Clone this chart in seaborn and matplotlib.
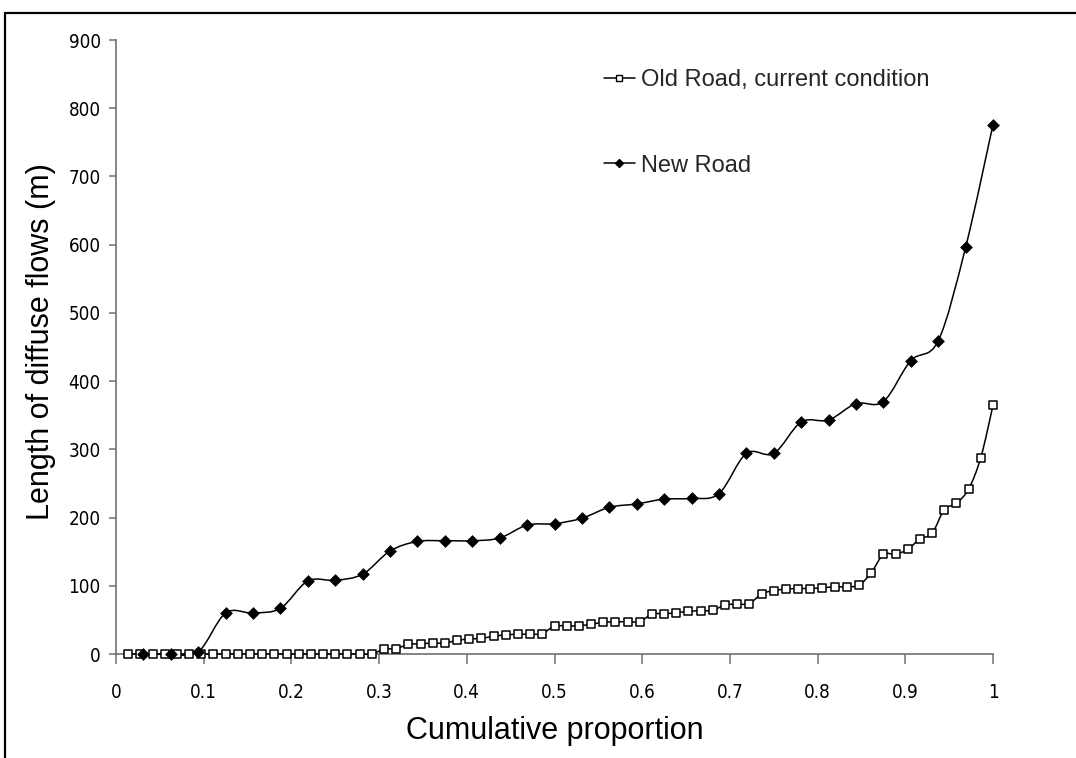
import numpy as np
import pandas as pd
import matplotlib
matplotlib.use("Agg")
import matplotlib.pyplot as plt
from matplotlib.path import Path
from matplotlib.patches import PathPatch, Rectangle
from matplotlib.lines import Line2D
from matplotlib import font_manager
import seaborn as sns

# Length of diffuse flows (m), sorted, for each road survey
old_road = [0, 0, 0, 0, 0, 0, 0, 0, 0, 0, 0, 0, 0, 0, 0, 0, 0, 0, 0, 0, 0,
            7, 8, 14, 15, 16, 16, 20, 22, 23, 26, 28, 29, 29, 30, 41,
            41, 41.5, 43.5, 46.5, 47, 47.5, 47.5, 58.5, 59, 60.5, 62.5, 63.5, 64,
            72, 73, 74, 88, 93, 95, 96, 96, 97, 98.5, 98.5, 101, 119, 146, 146,
            153.5, 168.5, 177, 211.5, 221, 242, 288, 364.5]
new_road = [0, 0, 3, 60, 60, 67, 107, 108, 117, 151, 165, 166, 166, 170,
            189, 191, 199, 215, 220, 227, 228, 235, 294, 294, 340, 343, 367,
            370, 430, 459, 596, 776]

old_label = "Old Road, current condition"
new_label = "New Road"

x_ticks = [0, 0.1, 0.2, 0.3, 0.4, 0.5, 0.6, 0.7, 0.8, 0.9, 1]
x_tick_labels = ["0", "0.1", "0.2", "0.3", "0.4", "0.5", "0.6", "0.7", "0.8", "0.9", "1"]
y_ticks = [0, 100, 200, 300, 400, 500, 600, 700, 800, 900]


def cumulative(values):
    n = len(values)
    return np.arange(1, n + 1) / n


df = pd.concat([
    pd.DataFrame({"prop": cumulative(old_road), "length": old_road, "road": old_label}),
    pd.DataFrame({"prop": cumulative(new_road), "length": new_road, "road": new_label}),
], ignore_index=True)

sns.set_theme(style="white")
plt.rcParams["font.family"] = ["Liberation Sans", "DejaVu Sans"]

# Narrow face for the tick numbers when one is available
has_condensed = any(f.name == "DejaVu Sans" and f.stretch == "condensed"
                    for f in font_manager.fontManager.ttflist)
if has_condensed:
    tick_font = dict(family="DejaVu Sans", stretch="condensed", size=13.5)
else:
    tick_font = dict(family="Liberation Sans", size=13)

fig = plt.figure(figsize=(10.76, 7.58), dpi=100)
ax = fig.add_axes([116 / 1076, 104 / 758, 877 / 1076, 614 / 758])

axis_grey = "#707070"


def smooth_path(xs, ys):
    """Cardinal-spline curve through the points, as cubic Bezier segments."""
    pts = np.column_stack([xs, ys]).astype(float)
    verts = [pts[0]]
    codes = [Path.MOVETO]
    n = len(pts)
    for i in range(n - 1):
        p0 = pts[i - 1] if i > 0 else pts[i]
        p1 = pts[i]
        p2 = pts[i + 1]
        p3 = pts[i + 2] if i + 2 < n else pts[i + 1]
        c1 = p1 + (p2 - p0) / 6.0
        c2 = p2 - (p3 - p1) / 6.0
        verts += [c1, c2, p2]
        codes += [Path.CURVE4] * 3
    return Path(verts, codes)


for label in [old_label, new_label]:
    sub = df[df["road"] == label]
    patch = PathPatch(smooth_path(sub["prop"], sub["length"]), facecolor="none",
                      edgecolor="black", lw=1.1, transform=ax.transData, zorder=2,
                      clip_on=False)
    ax.add_patch(patch)

sns.scatterplot(data=df[df["road"] == old_label], x="prop", y="length", marker="s",
                s=40, facecolor="white", edgecolor="black", linewidth=1.1,
                ax=ax, zorder=3, legend=False, clip_on=False)
sns.scatterplot(data=df[df["road"] == new_label], x="prop", y="length", marker="D",
                s=36, color="black", edgecolor="black", linewidth=0.5,
                ax=ax, zorder=4, legend=False, clip_on=False)

ax.set_xlim(0, 1)
ax.set_ylim(0, 900)
ax.set_xticks(x_ticks)
ax.set_xticklabels(x_tick_labels)
ax.set_yticks(y_ticks)

for side in ["top", "right"]:
    ax.spines[side].set_visible(False)
for side in ["left", "bottom"]:
    ax.spines[side].set_color(axis_grey)
    ax.spines[side].set_linewidth(1.2)
ax.spines["bottom"].set_zorder(1)

ax.tick_params(axis="x", direction="out", length=7, width=1.1, color=axis_grey,
               pad=14, bottom=True, labelcolor="black")
ax.tick_params(axis="y", direction="out", length=5, width=1.1, color=axis_grey,
               pad=6, left=True, labelcolor="black")
for lab in ax.get_xticklabels() + ax.get_yticklabels():
    lab.set_fontproperties(font_manager.FontProperties(**tick_font))

ax.set_xlabel("Cumulative proportion", fontsize=22, color="black")
ax.set_ylabel("Length of diffuse flows (m)", fontsize=22, color="black")
ax.xaxis.set_label_coords(0.5, -(716 - 654) / 614)
ax.yaxis.set_label_coords(-(116 - 56) / 877, (654 - 342) / 614)
ax.grid(False)

handles = [
    Line2D([], [], color="black", lw=1.1, marker="s", markersize=4.5,
           markerfacecolor="white", markeredgecolor="black", markeredgewidth=1.0),
    Line2D([], [], color="black", lw=1.1, marker="D", markersize=4.5,
           markerfacecolor="black", markeredgecolor="black"),
]
ax.legend(handles, [old_label, new_label], loc="upper left",
          bbox_to_anchor=((604 - 116) / 877, (654 - 69) / 614), frameon=False,
          fontsize=17, handlelength=1.3, handletextpad=0.25, labelspacing=2.7,
          borderpad=0, borderaxespad=0)

# Outer chart-area border
fig.patches.append(Rectangle((4.5 / 1076, -0.2), 1.3, (758 - 12.5) / 758 + 0.2,
                             transform=fig.transFigure, fill=False,
                             edgecolor="black", lw=1.6, zorder=0))

fig.savefig("out.png", dpi=100, facecolor="white")
